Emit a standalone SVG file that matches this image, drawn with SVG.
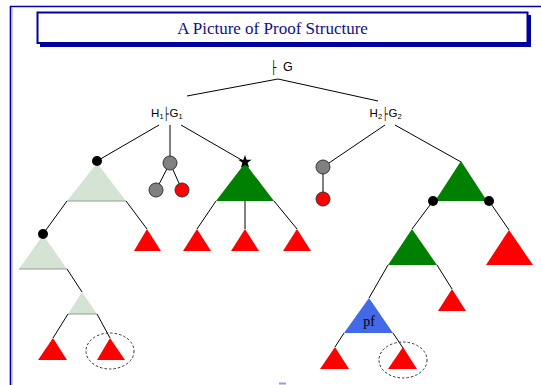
<svg xmlns="http://www.w3.org/2000/svg" width="541" height="385" viewBox="0 0 541 385">
<style>
.edge{stroke:#000;stroke-width:1;fill:none}
.lbl{font-family:"Liberation Sans",Arial,sans-serif;font-size:11.5px;fill:#000}
.big{font-size:12.5px}
.sub{font-family:"Liberation Sans",Arial,sans-serif;font-size:7.5px;fill:#000}
.ts{font-family:"DejaVu Sans",sans-serif;font-size:12px;font-weight:bold;fill:#000}
.red{fill:#ff0000}
.dkg{fill:#008000}
.ltg{fill:#d5e3d5}
.base{stroke:#8e9e8e;stroke-width:1}
.dot{fill:#000}
.gray{fill:#808080;stroke:#333;stroke-width:1}
.rc{fill:#ff0000;stroke:#333;stroke-width:1}
.ell{fill:none;stroke:#333;stroke-width:1;stroke-dasharray:2.5,2}
</style>
<rect width="541" height="385" fill="#fff"/>
<g id="frame">
<line x1="10" y1="6.5" x2="541" y2="6.5" stroke="#0000a0" stroke-width="1.6"/>
<line x1="10.5" y1="6" x2="10.5" y2="385" stroke="#0000a0" stroke-width="1.6"/>
<line x1="12" y1="8" x2="12" y2="385" stroke="#9a9ae0" stroke-width="1"/>
<rect x="279" y="382.5" width="7" height="2" fill="#9a9ae8"/>
</g>
<g id="title">
<rect x="40" y="15" width="491" height="32" fill="#0000a0"/>
<rect x="37.5" y="12.5" width="490" height="30.5" fill="#fff" stroke="#0000a0" stroke-width="2"/>
<text x="272.5" y="33.5" text-anchor="middle" font-family="'Liberation Serif','Times New Roman',serif" font-size="17" fill="#10108a">A Picture of Proof Structure</text>
</g>
<g id="connectors">
<line class="edge" x1="278" y1="79" x2="187" y2="96"/>
<line class="edge" x1="278" y1="79" x2="378" y2="101"/>
<line class="edge" x1="159" y1="125" x2="97" y2="161"/>
<line class="edge" x1="170" y1="125" x2="170" y2="163"/>
<line class="edge" x1="181" y1="125" x2="245" y2="162"/>
<line class="edge" x1="170" y1="163" x2="156" y2="190"/>
<line class="edge" x1="170" y1="163" x2="182" y2="190"/>
<line class="edge" x1="67" y1="201" x2="43" y2="234"/>
<line class="edge" x1="126" y1="201" x2="147" y2="229"/>
<line class="edge" x1="216" y1="201" x2="197" y2="229"/>
<line class="edge" x1="245" y1="201" x2="245" y2="229"/>
<line class="edge" x1="274" y1="201" x2="297" y2="229"/>
<line class="edge" x1="67" y1="269" x2="82" y2="292"/>
<line class="edge" x1="68" y1="314" x2="53" y2="338"/>
<line class="edge" x1="97" y1="314" x2="110" y2="338"/>
<line class="edge" x1="385" y1="125" x2="323" y2="167"/>
<line class="edge" x1="395" y1="125" x2="461" y2="162"/>
<line class="edge" x1="323" y1="167" x2="323" y2="199"/>
<line class="edge" x1="433" y1="201" x2="412" y2="229"/>
<line class="edge" x1="489" y1="201" x2="509" y2="230"/>
<line class="edge" x1="388" y1="265" x2="369" y2="298"/>
<line class="edge" x1="437" y1="265" x2="452" y2="289"/>
<line class="edge" x1="344" y1="333" x2="335" y2="347"/>
<line class="edge" x1="393" y1="333" x2="403" y2="348"/>
</g>
<g id="root">
<text class="ts" transform="translate(271,71.5) scale(0.75,1.05)">├</text>
<text class="lbl big" x="283" y="71">G</text>
</g>
<g id="h1g1">
<text class="lbl" x="151" y="117">H</text>
<text class="sub" x="159.5" y="118.5">1</text>
<text class="ts" transform="translate(163.5,118) scale(0.75,1)">├</text>
<text class="lbl" x="169.5" y="117">G</text>
<text class="sub" x="178.5" y="118.5">1</text>
</g>
<g id="h2g2">
<text class="lbl" x="369.5" y="117">H</text>
<text class="sub" x="378" y="118.5">2</text>
<text class="ts" transform="translate(382.5,118) scale(0.75,1)">├</text>
<text class="lbl" x="388.5" y="117">G</text>
<text class="sub" x="397.5" y="118.5">2</text>
</g>
<g id="L1"><polygon class="ltg" points="97,163 67,201 126,201"/><line class="base" x1="67" y1="201" x2="126" y2="201"/><circle class="dot" cx="97" cy="161" r="5"/></g>
<g id="L2"><polygon class="ltg" points="43,235 19,269 67,269"/><line class="base" x1="19" y1="269" x2="67" y2="269"/><circle class="dot" cx="43" cy="234" r="5"/></g>
<g id="L3"><polygon class="ltg" points="82,292 68,314 97,314"/><line class="base" x1="68" y1="314" x2="97" y2="314"/></g>
<g id="R1"><polygon class="red" points="147,229 134,251 161,251"/></g>
<g id="R2"><polygon class="red" points="53,338 38,360 67,360"/></g>
<g id="R3"><polygon class="red" points="110,338 97,360 125,360"/><ellipse class="ell" cx="110" cy="351" rx="24" ry="18"/></g>
<g id="G0"><circle class="gray" cx="170" cy="163" r="7"/></g>
<g id="G1"><circle class="gray" cx="156" cy="190" r="7"/></g>
<g id="G2"><circle class="rc" cx="182" cy="190" r="7"/></g>
<g id="T1"><polygon class="dkg" points="245,163 216,201 274,201"/><polygon fill="#000" points="245,155 246.6,159.8 251.7,159.8 247.6,162.8 249.1,167.7 245,164.7 240.9,167.7 242.4,162.8 238.3,159.8 243.4,159.8"/></g>
<g id="R4"><polygon class="red" points="197,229 183,251 211,251"/></g>
<g id="R5"><polygon class="red" points="245,229 231,251 259,251"/></g>
<g id="R6"><polygon class="red" points="297,229 283,251 311,251"/></g>
<g id="G3"><circle class="gray" cx="323" cy="167" r="7"/></g>
<g id="G4"><circle class="rc" cx="323" cy="199" r="7"/></g>
<g id="T2"><polygon class="dkg" points="461,161 435,201 487,201"/><circle class="dot" cx="433" cy="201" r="5"/><circle class="dot" cx="489" cy="201" r="5"/></g>
<g id="T3"><polygon class="dkg" points="412,229 388,265 437,265"/></g>
<g id="R7"><polygon class="red" points="509,230 486,265 533,265"/></g>
<g id="R8"><polygon class="red" points="452,289 438,311 466,311"/></g>
<g id="PF"><polygon fill="#4169e8" points="369,298 344,333 393,333"/><text x="369" y="326" text-anchor="middle" font-family="'Liberation Serif','Times New Roman',serif" font-size="14" fill="#000">pf</text></g>
<g id="R9"><polygon class="red" points="335,347 320,369 349,369"/></g>
<g id="R10"><polygon class="red" points="403,347 388,369 417,369"/><ellipse class="ell" cx="403" cy="360" rx="24" ry="18"/></g>
</svg>
